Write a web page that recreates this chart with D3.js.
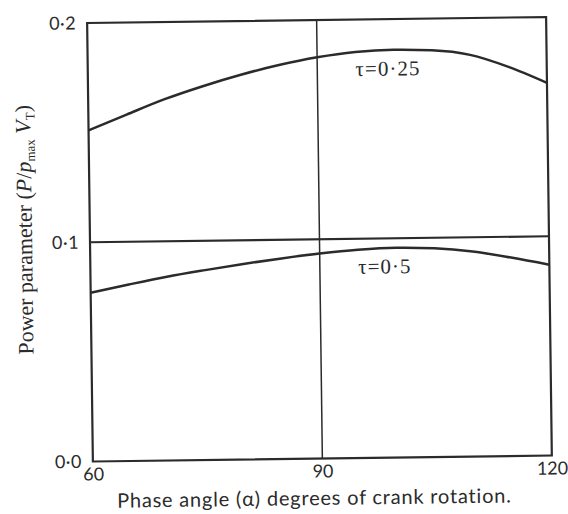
<!DOCTYPE html>
<html>
<head>
<meta charset="utf-8">
<script src="https://cdn.jsdelivr.net/npm/d3@7"></script>
<style>
  body { margin: 0; background: #fff; }
</style>
</head>
<body>
<div id="graph"></div>
<script>
'use strict';

// phase angle (degrees) and power parameter
const angles = [60, 65, 70, 75, 80, 85, 90, 95, 100, 105, 110, 115, 120];
const tau025 = [0.151, 0.158, 0.1648, 0.1705, 0.1755, 0.1797, 0.183, 0.1852, 0.186, 0.1855, 0.1832, 0.1775, 0.170];
const tau05 = [0.0770, 0.0805, 0.0838, 0.0866, 0.0892, 0.0915, 0.0935, 0.0950, 0.0957, 0.0952, 0.0935, 0.0905, 0.0870];
const curveLabels = ['τ=0·25', 'τ=0·5'];
const xTicks = [60, 90, 120];
const yTicks = [0, 0.1, 0.2];
const labelAngle = 95;

const width = 568;
const height = 514;
const margin = {top: 20, right: 19, bottom: 55.5, left: 90};
const ink = '#2b2b2b';

const svg = d3.select('#graph')
      .append('svg')
      .attr('width', width)
      .attr('height', height);

// the scan is a little crooked, tilt the figure the same way
const g = svg.append('g').attr('transform', 'rotate(-0.75, 320, 240)');

const x = d3.scaleLinear()
      .domain([60, 120])
      .range([margin.left, width - margin.right]);
const y = d3.scaleLinear()
      .domain([0, 0.2])
      .range([height - margin.bottom, margin.top]);

// reference lines at 0.1 and 90 degrees
g.append('line')
    .attr('x1', x(60)).attr('x2', x(120))
    .attr('y1', y(0.1)).attr('y2', y(0.1))
    .attr('stroke', ink).attr('stroke-width', 2.2);
g.append('line')
    .attr('x1', x(90)).attr('x2', x(90))
    .attr('y1', y(0)).attr('y2', y(0.2))
    .attr('stroke', ink).attr('stroke-width', 1.5);

// frame
g.append('rect')
    .attr('x', x(60)).attr('y', y(0.2))
    .attr('width', x(120) - x(60))
    .attr('height', y(0) - y(0.2))
    .attr('fill', 'none')
    .attr('stroke', ink)
    .attr('stroke-width', 2.2);

const font = '18px Lato';

const xAxis = g.append('g')
    .attr('transform', `translate(0,${y(0)})`)
    .call(d3.axisBottom(x).tickValues(xTicks).tickSize(0).tickFormat(d3.format('d')));
xAxis.select('.domain').remove();
xAxis.selectAll('text')
    .style('font', font)
    .attr('fill', ink)
    .attr('y', 19)
    .attr('dy', 0);

const yAxis = g.append('g')
    .attr('transform', `translate(${x(60)},0)`)
    .call(d3.axisLeft(y).tickValues(yTicks).tickSize(0).tickPadding(11)
          .tickFormat(d => d.toFixed(1).replace('.', '·')));
yAxis.select('.domain').remove();
yAxis.selectAll('text')
    .style('font', font)
    .style('letter-spacing', '0.5px')
    .attr('fill', ink);

// curves
const line = d3.line()
      .x((d, i) => x(angles[i]))
      .y(d => y(d))
      .curve(d3.curveMonotoneX);

[tau025, tau05].forEach((values, k) => {
    g.append('path')
        .datum(values)
        .attr('fill', 'none')
        .attr('stroke', ink)
        .attr('stroke-width', 2.5)
        .attr('d', line);

    const at = values[angles.indexOf(labelAngle)];
    g.append('text')
        .attr('x', x(labelAngle))
        .attr('y', y(at) + 24)
        .style('font', '21px "Liberation Serif"')
        .style('letter-spacing', '1px')
        .attr('fill', ink)
        .text(curveLabels[k]);
});

// axis titles
const yTitle = g.append('text')
    .attr('transform', 'translate(32,226) rotate(-90)')
    .attr('text-anchor', 'middle')
    .style('font', '22px "Liberation Serif"')
    .attr('fill', ink);
yTitle.append('tspan').text('Power parameter (');
yTitle.append('tspan').style('font-style', 'italic').text('P');
yTitle.append('tspan').text('/');
yTitle.append('tspan').style('font-style', 'italic').text('p');
yTitle.append('tspan').attr('dy', 4).style('font-size', '13px').text('max');
yTitle.append('tspan').attr('dy', -4).style('font-style', 'italic').text(' V');
yTitle.append('tspan').attr('dy', 4).style('font-size', '13px').text('T');
yTitle.append('tspan').attr('dy', -4).text(')');

g.append('text')
    .attr('x', 311)
    .attr('y', 505)
    .attr('text-anchor', 'middle')
    .style('font', '20px Lato')
    .style('letter-spacing', '0.8px')
    .attr('fill', ink)
    .text('Phase angle (α) degrees of crank rotation.');
</script>
</body>
</html>
